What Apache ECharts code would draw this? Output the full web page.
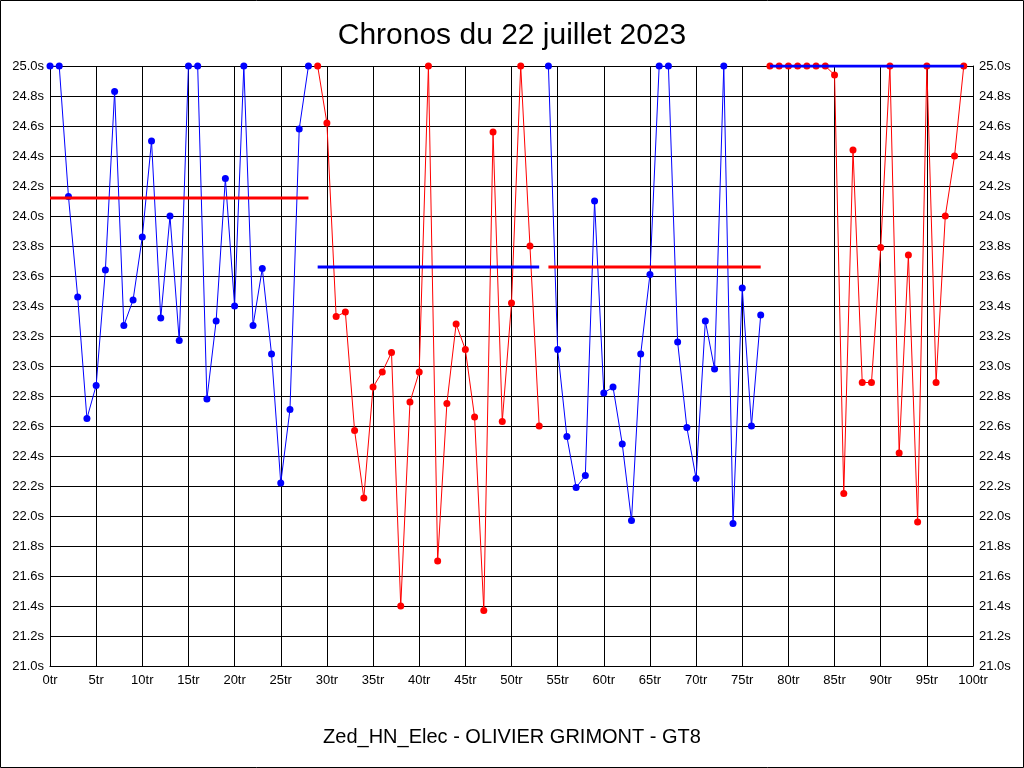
<!DOCTYPE html>
<html>
<head>
<meta charset="utf-8">
<script src="https://cdn.jsdelivr.net/npm/echarts@6/dist/echarts.min.js"></script>
<style>
html,body{margin:0;padding:0;background:#fff;}
#chart{width:1024px;height:768px;}
</style>
</head>
<body>
<div id="chart"></div>
<script>
// Lap-time data (seconds), values above 25.0 are clipped at the chart top
const stint1Start = 0;
const stint1Times = [25.0, 25.0, 24.13, 23.46, 22.65, 22.87, 23.64, 24.83, 23.27, 23.44, 23.86, 24.50, 23.32, 24.00, 23.17, 25.0, 25.0, 22.78, 23.30, 24.25, 23.40, 25.0, 23.27, 23.65, 23.08, 22.22, 22.71, 24.58, 25.0];
const stint2Start = 29;
const stint2Times = [25.0, 24.62, 23.33, 23.36, 22.57, 22.12, 22.86, 22.96, 23.09, 21.40, 22.76, 22.96, 25.0, 21.70, 22.75, 23.28, 23.11, 22.66, 21.37, 24.56, 22.63, 23.42, 25.0, 23.80, 22.60];
const stint3Start = 54;
const stint3Times = [25.0, 23.11, 22.53, 22.19, 22.27, 24.10, 22.82, 22.86, 22.48, 21.97, 23.08, 23.61, 25.0, 25.0, 23.16, 22.59, 22.25, 23.30, 22.98, 25.0, 21.95, 23.52, 22.60, 23.34];
const stint4Start = 78;
const stint4Times = [25.0, 25.0, 25.0, 25.0, 25.0, 25.0, 25.0, 24.94, 22.15, 24.44, 22.89, 22.89, 23.79, 25.0, 22.42, 23.74, 21.96, 25.0, 22.89, 24.00, 24.40, 25.0];
const stintAverages = [24.12, 23.66, 23.66, 25.0];
const stintColors = ['#0000ff', '#ff0000', '#0000ff', '#ff0000'];
const avgColors = ['#ff0000', '#0000ff', '#ff0000', '#0000ff'];

const titleText = 'Chronos du 22 juillet 2023';
const footerText = 'Zed_HN_Elec - OLIVIER GRIMONT - GT8';

const stints = [
  [stint1Start, stint1Times],
  [stint2Start, stint2Times],
  [stint3Start, stint3Times],
  [stint4Start, stint4Times]
];

const FONT = 'Liberation Sans, Arial, sans-serif';
const series = [];
stints.forEach(function (s, i) {
  const start = s[0], times = s[1];
  series.push({
    type: 'line',
    data: times.map(function (v, k) { return [start + k, v]; }),
    symbol: 'circle',
    symbolSize: 7,
    lineStyle: { color: stintColors[i], width: 1 },
    itemStyle: { color: stintColors[i] },
    animation: false,
    z: 3
  });
});
stints.forEach(function (s, i) {
  const start = s[0], end = s[0] + s[1].length - 1;
  series.push({
    type: 'line',
    data: [[start, stintAverages[i]], [end, stintAverages[i]]],
    symbol: 'none',
    lineStyle: { color: avgColors[i], width: 3 },
    animation: false,
    z: 4
  });
});

const yAxisBase = {
  type: 'value',
  min: 21,
  max: 25,
  interval: 0.2,
  axisLine: { show: true, lineStyle: { color: '#000', width: 1 } },
  axisTick: { show: false },
  axisLabel: {
    color: '#000', fontFamily: FONT, fontSize: 13, margin: 6,
    formatter: function (v) { return v.toFixed(1) + 's'; }
  }
};

const chart = echarts.init(document.getElementById('chart'));
chart.setOption({
  backgroundColor: '#fff',
  animation: false,
  title: [
    { text: titleText, left: 'center', top: 16,
      textStyle: { fontFamily: FONT, fontSize: 30, fontWeight: 'normal', color: '#000' } },
    { text: footerText, left: 'center', top: 722,
      textStyle: { fontFamily: FONT, fontSize: 20, fontWeight: 'normal', color: '#000' } }
  ],
  grid: { left: 50, right: 51, top: 66, bottom: 102, containLabel: false },
  xAxis: {
    type: 'value', min: 0, max: 100, interval: 5,
    axisLine: { show: true, onZero: false, lineStyle: { color: '#000', width: 1 } },
    axisTick: { show: false },
    splitLine: { show: true, lineStyle: { color: '#000', width: 1 } },
    axisLabel: { color: '#000', fontFamily: FONT, fontSize: 13, margin: 8,
      formatter: function (v) { return v + 'tr'; } }
  },
  yAxis: [
    Object.assign({}, yAxisBase, { position: 'left',
      splitLine: { show: true, lineStyle: { color: '#000', width: 1 } } }),
    Object.assign({}, yAxisBase, { position: 'right', splitLine: { show: false } })
  ],
  graphic: [{
    type: 'rect', shape: { x: 0.5, y: 0.5, width: 1023, height: 767 },
    style: { fill: 'none', stroke: '#000', lineWidth: 1 }, silent: true
  }],
  series: series
});
</script>
</body>
</html>
